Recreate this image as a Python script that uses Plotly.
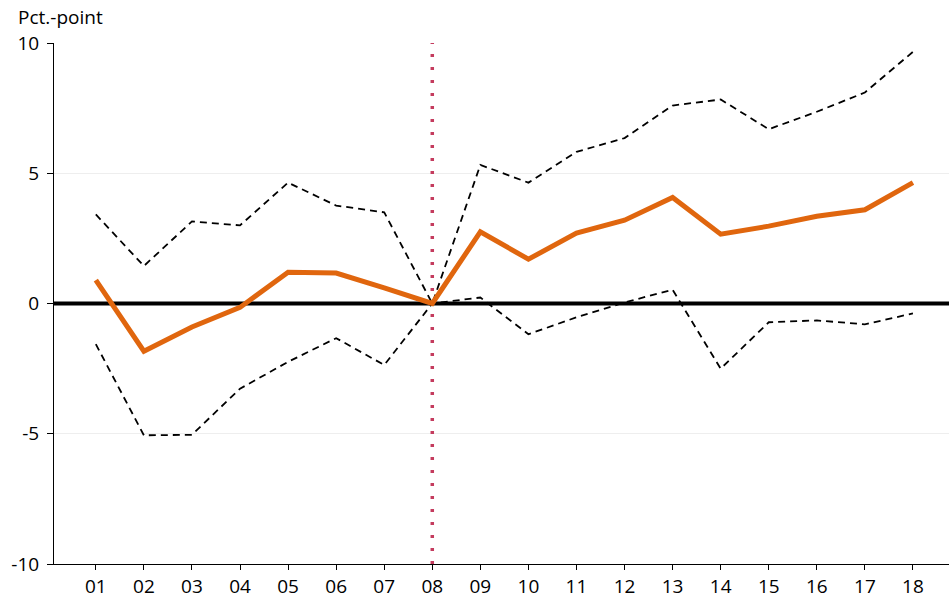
import plotly.graph_objects as go

categories = ["01","02","03","04","05","06","07","08","09","10","11","12","13","14","15","16","17","18"]
estimate = [0.9,-1.83,-0.9,-0.15,1.2,1.17,0.6,0.0,2.75,1.7,2.7,3.2,4.07,2.66,2.97,3.35,3.6,4.64]
upper = [3.42,1.44,3.15,3.0,4.64,3.76,3.5,0.0,5.32,4.64,5.82,6.35,7.6,7.83,6.69,7.36,8.1,9.66]
lower = [-1.56,-5.06,-5.04,-3.27,-2.24,-1.33,-2.36,0.0,0.23,-1.18,-0.53,0.04,0.53,-2.5,-0.72,-0.65,-0.8,-0.38]
yticks = [-10,-5,0,5,10]
event_cat = "08"

xs = list(range(len(categories)))
ev = categories.index(event_cat)

fig = go.Figure()
fig.add_trace(go.Scatter(x=xs, y=upper, mode="lines", line=dict(color="black", width=1.8, dash="7px,5px"), showlegend=False))
fig.add_trace(go.Scatter(x=xs, y=lower, mode="lines", line=dict(color="black", width=1.8, dash="7px,5px"), showlegend=False))
fig.add_trace(go.Scatter(x=[-1, len(categories)], y=[0, 0], mode="lines", line=dict(color="black", width=4), showlegend=False))
fig.add_trace(go.Scatter(x=[ev, ev], y=[-10, 10], mode="lines", line=dict(color="#C43B5E", width=3.5, dash="3px,10px"), showlegend=False))
fig.add_trace(go.Scatter(x=xs, y=estimate, mode="lines", line=dict(color="#E0660E", width=5), showlegend=False))

fig.update_layout(
    width=949, height=599,
    margin=dict(l=54, r=0, t=43, b=30),
    plot_bgcolor="white", paper_bgcolor="white",
    font=dict(family="Open Sans", size=19, color="black"),
    xaxis=dict(range=[-0.87, 17.75], tickmode="array", tickvals=xs, ticktext=categories,
               showgrid=False, zeroline=False, showline=True, linecolor="black", linewidth=1,
               ticks="outside", ticklen=5, tickcolor="black"),
    yaxis=dict(range=[-10, 10], tickmode="array", tickvals=yticks, ticktext=[str(v) for v in yticks],
               showgrid=True, gridcolor="#EEEEEE", gridwidth=1, zeroline=False,
               showline=True, linecolor="black", linewidth=1,
               ticks="outside", ticklen=6, tickcolor="black", ticklabelstandoff=4),
    annotations=[dict(text="Pct.-point", xref="paper", yref="paper", x=-38/895, y=1.0, yshift=11,
                      xanchor="left", yanchor="bottom", showarrow=False,
                      font=dict(family="Open Sans", size=19))],
)
fig.write_html("out.html", config={"displayModeBar": False},
               post_script="document.body.style.margin='0';document.body.style.overflow='hidden';")
